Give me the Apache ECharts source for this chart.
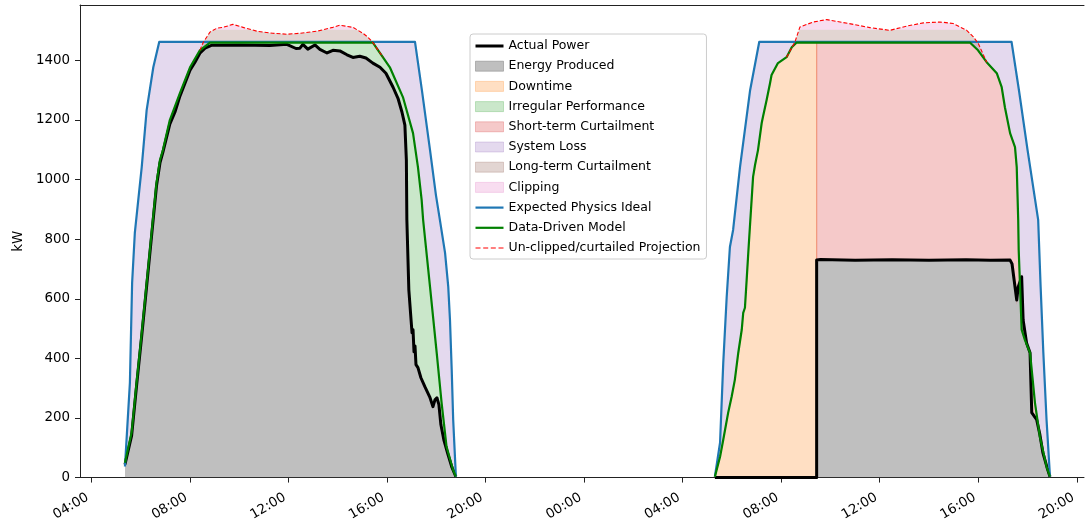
<!DOCTYPE html>
<html>
<head>
<meta charset="utf-8">
<script src="https://cdn.jsdelivr.net/npm/echarts@6/dist/echarts.min.js"></script>
<style>
  html, body { margin: 0; padding: 0; background: #fff; }
  #chart { width: 1085px; height: 523px; }
</style>
</head>
<body>
<div id="chart"></div>
<script>
// Time is in hours from midnight of the first day; power in kW.
const xTicks = [4, 8, 12, 16, 20, 24, 28, 32, 36, 40, 44];
const yTicks = [0, 200, 400, 600, 800, 1000, 1200, 1400];

// Expected Physics Ideal
const idealDay1 = [[5.37,37],[5.57,318],[5.66,653],[5.77,821],[5.91,932],[6.05,1042],[6.25,1233],[6.52,1377],[6.76,1462],
  [17.14,1462],[17.42,1300],[17.75,1099],[17.99,948],[18.15,865],[18.36,754],[18.49,640],[18.56,529],[18.63,362],[18.69,194],[18.80,3]];
const idealDay2 = [[29.31,3],[29.52,117],[29.65,385],[29.79,607],[29.92,774],[30.05,831],[30.33,1042],[30.74,1300],[31.11,1462],
  [41.35,1462],[41.65,1300],[42.00,1099],[42.43,865],[42.53,640],[42.64,419],[42.77,194],[42.91,3]];

// Data-Driven Model
const modelDay1 = [[5.37,50],[5.64,151],[5.84,318],[6.05,486],[6.25,653],[6.45,821],[6.65,989],[6.79,1066],[6.91,1099],[7.19,1200],
  [7.60,1290],[8.01,1377],[8.41,1434],[8.82,1460],[15.43,1460],[16.12,1377],[16.65,1277],[17.06,1156],[17.26,1042],[17.41,932],
  [17.47,865],[17.75,640],[18.02,419],[18.22,251],[18.42,104],[18.68,27],[18.80,3]];
const modelDay2 = [[29.31,3],[29.52,70],[29.65,127],[29.85,218],[29.99,271],[30.12,328],[30.26,419],[30.40,496],[30.46,553],[30.53,570],
  [30.60,664],[30.68,774],[30.86,1009],[30.94,1049],[31.06,1099],[31.21,1190],[31.26,1210],[31.41,1267],[31.55,1324],[31.61,1351],
  [31.87,1391],[32.22,1411],[32.43,1444],[32.63,1460],[39.66,1460],[39.99,1434],[40.34,1394],[40.75,1357],[40.95,1310],[41.08,1243],
  [41.29,1156],[41.49,1109],[41.56,1042],[41.62,865],[41.64,764],[41.76,496],[41.89,462],[42.10,419],[42.30,251],[42.50,137],
  [42.77,37],[42.91,3]];

// Actual Power
const actualDay1 = [[5.37,44],[5.64,141],[5.84,308],[6.05,476],[6.25,643],[6.45,811],[6.65,979],[6.79,1056],[6.91,1092],[7.19,1186],
  [7.40,1227],[7.60,1280],[8.01,1367],[8.21,1394],[8.41,1424],[8.62,1441],[8.90,1451],[10.04,1452],[11.25,1450],[11.94,1454],
  [12.31,1440],[12.47,1441],[12.59,1454],[12.79,1438],[13.08,1452],[13.28,1437],[13.57,1425],[13.81,1434],[14.09,1432],[14.38,1419],
  [14.62,1410],[14.90,1414],[15.15,1408],[15.43,1391],[15.72,1377],[15.96,1357],[16.25,1310],[16.45,1273],[16.61,1227],[16.73,1183],
  [16.79,1066],[16.81,865],[16.89,630],[16.98,529],[17.02,486],[17.06,496],[17.10,422],[17.14,442],[17.18,379],[17.26,369],
  [17.38,335],[17.54,305],[17.75,268],[17.87,238],[17.95,261],[18.03,268],[18.11,245],[18.19,178],[18.31,127],[18.48,77],
  [18.64,34],[18.80,3]];
const actualDay2Off = [[29.31,0],[33.44,0]];
const actualDay2On = [[33.44,730],[33.60,732],[35.00,729],[36.50,731],[38.00,729],[39.50,731],[40.50,729],[41.29,730],[41.37,717],
  [41.56,596],[41.62,640],[41.76,674],[41.82,529],[41.96,452],[42.10,419],[42.17,218],[42.37,194],[42.50,144],[42.62,84],
  [42.79,34],[42.91,3]];

// Un-clipped/curtailed Projection
const projectionDay1 = [[8.41,1434],[8.55,1461],[8.82,1495],[9.10,1508],[9.35,1511],[9.75,1521],[10.16,1511],[10.73,1498],[11.37,1491],
  [11.94,1488],[12.47,1491],[13.16,1498],[13.81,1511],[14.09,1518],[14.62,1511],[15.03,1491],[15.23,1478],[15.43,1460],[15.84,1411]];
const projectionDay2 = [[32.22,1411],[32.56,1462],[32.76,1512],[33.30,1529],[33.85,1537],[34.39,1529],[34.93,1521],[35.60,1510],
  [36.41,1501],[37.09,1515],[37.77,1526],[38.45,1529],[38.98,1524],[39.53,1501],[39.80,1479],[40.00,1457],[40.34,1394]];

const downtimeEnd = 33.44;   // outage ends, output resumes at the curtailed level
const clipLevel = 1503;      // inverter limit separating clipping from curtailment

// ---- geometry helpers for the shaded bands ----
function interpAt(curve, x) {
  for (let i = 1; i < curve.length; i++) {
    const a = curve[i - 1], b = curve[i];
    if (x >= a[0] && x <= b[0]) {
      if (b[0] === a[0]) return b[1];
      return a[1] + (b[1] - a[1]) * (x - a[0]) / (b[0] - a[0]);
    }
  }
  return x < curve[0][0] ? curve[0][1] : curve[curve.length - 1][1];
}
function slice(curve, x0, x1) {
  const out = [[x0, interpAt(curve, x0)]];
  curve.forEach(p => { if (p[0] > x0 && p[0] < x1) out.push(p); });
  out.push([x1, interpAt(curve, x1)]);
  return out;
}
function withCrossings(curve, level) {
  const out = [curve[0]];
  for (let i = 1; i < curve.length; i++) {
    const a = curve[i - 1], b = curve[i];
    if ((a[1] - level) * (b[1] - level) < 0) {
      const t = (level - a[1]) / (b[1] - a[1]);
      out.push([a[0] + t * (b[0] - a[0]), level]);
    }
    out.push(b);
  }
  return out;
}
const rev = c => c.slice().reverse();
const first = c => c[0][0];
const last = c => c[c.length - 1][0];

function band(upper, lower) { return upper.concat(rev(lower)); }
function underCurve(curve) { return curve.concat([[last(curve), 0], [first(curve), 0]]); }
function curtailBand(proj, model) {
  const capped = withCrossings(proj, clipLevel).map(p => [p[0], Math.min(p[1], clipLevel)]);
  return band(capped, slice(model, first(proj), last(proj)));
}
function clipBand(proj) {
  const above = withCrossings(proj, clipLevel).map(p => [p[0], Math.max(p[1], clipLevel)]);
  return above.concat([[last(proj), clipLevel], [first(proj), clipLevel]]);
}

const FILLS = {
  energy:    'rgba(128,128,128,0.5)',
  downtime:  'rgba(255,127,14,0.25)',
  irregular: 'rgba(44,160,44,0.25)',
  shortTerm: 'rgba(214,39,40,0.25)',
  system:    'rgba(148,103,189,0.25)',
  longTerm:  'rgba(140,86,75,0.25)',
  clipping:  'rgba(227,119,194,0.25)'
};
const LINES = { actual: '#000000', ideal: '#1f77b4', model: '#008000', projection: '#ff0000' };

function polygonSeries(name, pts, fill, z, stroke) {
  return {
    type: 'custom', name, z, silent: true, clip: true,
    data: pts,
    encode: { x: 0, y: 1 },
    itemStyle: { color: fill },
    renderItem: (params, api) => {
      if (params.dataIndex !== 0) return null;
      return {
        type: 'polygon',
        shape: { points: pts.map(p => api.coord(p)) },
        style: { fill, stroke: stroke ? fill : null, lineWidth: stroke ? 1.2 : 0 }
      };
    }
  };
}
function lineSeries(name, data, color, width, z, dashed) {
  return {
    type: 'line', name, data, z, silent: true,
    symbol: 'none', showSymbol: false, smooth: false,
    lineStyle: { color, width, type: dashed ? [4, 2] : 'solid', cap: 'butt', join: 'round' },
    itemStyle: { color }
  };
}

const N = {
  actual: 'Actual Power', energy: 'Energy Produced', downtime: 'Downtime',
  irregular: 'Irregular Performance', shortTerm: 'Short-term Curtailment',
  system: 'System Loss', longTerm: 'Long-term Curtailment', clipping: 'Clipping',
  ideal: 'Expected Physics Ideal', model: 'Data-Driven Model',
  projection: 'Un-clipped/curtailed Projection'
};

const actualDay2 = actualDay2Off.concat(actualDay2On);

const series = [
  polygonSeries(N.energy, underCurve(actualDay1), FILLS.energy, 1),
  polygonSeries(N.energy, underCurve(actualDay2On), FILLS.energy, 1),
  polygonSeries(N.downtime,
    slice(modelDay2, first(modelDay2), downtimeEnd).concat([[downtimeEnd, 0], [first(modelDay2), 0]]),
    FILLS.downtime, 2, true),
  polygonSeries(N.irregular, band(modelDay1, actualDay1), FILLS.irregular, 2),
  polygonSeries(N.shortTerm,
    band(slice(modelDay2, downtimeEnd, last(modelDay2)), actualDay2On),
    FILLS.shortTerm, 2, true),
  polygonSeries(N.system, band(idealDay1, modelDay1), FILLS.system, 2),
  polygonSeries(N.system, band(idealDay2, modelDay2), FILLS.system, 2),
  polygonSeries(N.longTerm, curtailBand(projectionDay1, modelDay1), FILLS.longTerm, 2),
  polygonSeries(N.longTerm, curtailBand(projectionDay2, modelDay2), FILLS.longTerm, 2),
  polygonSeries(N.clipping, clipBand(projectionDay1), FILLS.clipping, 2),
  polygonSeries(N.clipping, clipBand(projectionDay2), FILLS.clipping, 2),
  lineSeries(N.actual, actualDay1, LINES.actual, 3, 5),
  lineSeries(N.actual, actualDay2, LINES.actual, 3, 5),
  lineSeries(N.ideal, idealDay1, LINES.ideal, 2.2, 6),
  lineSeries(N.ideal, idealDay2, LINES.ideal, 2.2, 6),
  lineSeries(N.model, modelDay1, LINES.model, 2.2, 7),
  lineSeries(N.model, modelDay2, LINES.model, 2.2, 7),
  lineSeries(N.projection, projectionDay1, LINES.projection, 1.1, 8, true),
  lineSeries(N.projection, projectionDay2, LINES.projection, 1.1, 8, true)
];

// legend keys: filled patches for the bands, short strokes for the lines
const patch = (name, key) => ({
  name, icon: 'rect',
  itemStyle: { color: FILLS[key], borderColor: FILLS[key], borderWidth: 1 }
});
const SOLID_3 = 'path://M0,0H28V3H0Z';
const SOLID_2 = 'path://M0,0H28V2.2H0Z';
const DASHED = 'path://M0,0H5V1.2H0Z M7.7,0H12.7V1.2H7.7Z M15.3,0H20.3V1.2H15.3Z M23,0H28V1.2H23Z';
const stroke = (name, key, icon) => ({ name, icon, itemStyle: { color: LINES[key], borderWidth: 0 } });

const FONT = 'DejaVu Sans';
const pad2 = n => (n < 10 ? '0' : '') + n;
const X_MIN = 3.545, X_MAX = 44.29;

const axisBase = {
  type: 'value', min: X_MIN, max: X_MAX,
  splitLine: { show: false }
};

const option = {
  animation: false,
  backgroundColor: '#ffffff',
  textStyle: { fontFamily: FONT },
  grid: { left: 80, top: 5, right: 1, bottom: 45, show: false },
  legend: {
    orient: 'vertical', left: 470, top: 34,
    padding: [5, 6, 4, 5],
    itemWidth: 28, itemHeight: 10, itemGap: 6.2,
    symbolKeepAspect: true,
    backgroundColor: 'rgba(255,255,255,0.8)',
    borderColor: '#cccccc', borderWidth: 1, borderRadius: 3,
    selectedMode: false,
    textStyle: { fontFamily: FONT, fontSize: 12.5, color: '#000', lineHeight: 14 },
    data: [
      stroke(N.actual, 'actual', SOLID_3),
      patch(N.energy, 'energy'),
      patch(N.downtime, 'downtime'),
      patch(N.irregular, 'irregular'),
      patch(N.shortTerm, 'shortTerm'),
      patch(N.system, 'system'),
      patch(N.longTerm, 'longTerm'),
      patch(N.clipping, 'clipping'),
      stroke(N.ideal, 'ideal', SOLID_2),
      stroke(N.model, 'model', SOLID_2),
      stroke(N.projection, 'projection', DASHED)
    ]
  },
  xAxis: [
    Object.assign({}, axisBase, {
      position: 'bottom',
      axisLine: { show: true, onZero: false, lineStyle: { color: '#222', width: 1 } },
      axisTick: { show: true, length: 5, customValues: xTicks, lineStyle: { color: '#222' } },
      axisLabel: {
        customValues: xTicks, rotate: 30, margin: 17, padding: [0, 4, 0, 0],
        fontFamily: FONT, fontSize: 13.4, color: '#000',
        formatter: v => pad2(Math.round(v) % 24) + ':00'
      }
    }),
    Object.assign({}, axisBase, {
      position: 'top',
      axisLine: { show: true, onZero: false, lineStyle: { color: '#222', width: 1 } },
      axisTick: { show: false },
      axisLabel: { show: false }
    })
  ],
  yAxis: {
    type: 'value', min: 0, max: 1586,
    name: 'kW', nameLocation: 'middle', nameGap: 51,
    nameTextStyle: { fontFamily: FONT, fontSize: 13.4, color: '#000' },
    splitLine: { show: false },
    axisLine: { show: true, lineStyle: { color: '#222', width: 1 } },
    axisTick: { show: true, length: 5, customValues: yTicks, lineStyle: { color: '#222' } },
    axisLabel: {
      customValues: yTicks, margin: 10, fontFamily: FONT, fontSize: 13.4, color: '#000',
      formatter: v => String(v)
    }
  },
  series
};

const chart = echarts.init(document.getElementById('chart'), null, { renderer: 'canvas' });
chart.setOption(option);
</script>
</body>
</html>
